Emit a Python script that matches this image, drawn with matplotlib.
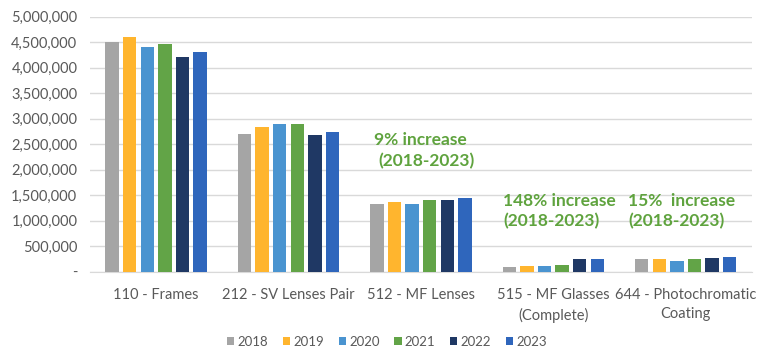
import matplotlib.pyplot as plt
import matplotlib.ticker as mticker
import numpy as np

plt.rcParams['font.family'] = ['Lato', 'DejaVu Sans']

categories = ['110 - Frames', '212 - SV Lenses Pair', '512 - MF Lenses',
              '515 - MF Glasses\n(Complete)', '644 - Photochromatic\nCoating']
years = ['2018', '2019', '2020', '2021', '2022', '2023']
values = {
    '2018': [4500000, 2700000, 1325000, 100000, 250000],
    '2019': [4605000, 2840000, 1370000, 105000, 250000],
    '2020': [4415000, 2890000, 1330000, 105000, 210000],
    '2021': [4470000, 2890000, 1410000, 130000, 250000],
    '2022': [4210000, 2690000, 1400000, 250000, 270000],
    '2023': [4300000, 2730000, 1440000, 255000, 290000],
}
colors = ['#A5A5A5', '#FFB52E', '#4A94D0', '#62A447', '#1F3864', '#2F66BC']

notes = [
    (2.0, '9% increase', 'center', 2580000),
    (2.04, '(2018-2023)', 'center', 2165000),
    (2.62, '148% increase\n(2018-2023)', 'left', 1190000),
    (3.565, '15%  increase\n(2018-2023)', 'left', 1190000),
]

fig = plt.figure(figsize=(7.68, 3.63), dpi=100)
ax = fig.add_axes([0.117, 0.2515, 0.862, 0.7025])

x = np.arange(len(categories))
stride = 0.133
width = 0.101
for i, yr in enumerate(years):
    ax.bar(x + (i - 2.5) * stride, values[yr], width, color=colors[i], label=yr, zorder=3)

ax.set_xlim(-0.5, len(categories) - 0.5)
ax.set_ylim(0, 5000000)
ax.yaxis.set_major_locator(mticker.MultipleLocator(500000))
ax.yaxis.set_major_formatter(mticker.FuncFormatter(
    lambda v, p: '-' if v == 0 else f'{int(v):,}'))
ax.grid(axis='y', color='#D9D9D9', lw=1, zorder=0)
for s in ['top', 'right', 'left']:
    ax.spines[s].set_visible(False)
ax.spines['bottom'].set_color('#D9D9D9')
ax.tick_params(axis='both', length=0, colors='#595959', labelsize=10.5)
ax.tick_params(axis='y', pad=9)
ax.tick_params(axis='x', pad=12)
ax.set_xticks(x)
ax.set_xticklabels(categories, linespacing=1.45)

for nx, txt, ha, ny in notes:
    ax.text(nx, ny, txt, color='#5FA33E', fontsize=12.5, fontweight='bold',
            ha=ha, va='center', linespacing=1.3, zorder=4)

ax.legend(loc='center', bbox_to_anchor=(387 / 768, 21 / 363), bbox_transform=fig.transFigure,
          ncol=6, frameon=False, fontsize=9.5, handlelength=0.55, handleheight=0.55,
          handletextpad=0.25, columnspacing=1.1, labelcolor='#595959')

fig.savefig('out.png', dpi=100)
